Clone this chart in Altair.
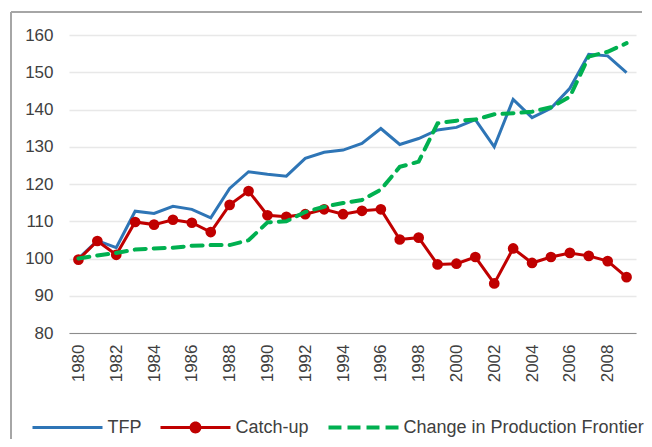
import altair as alt
import pandas as pd

years = list(range(1980, 2010))
tfp = [100.0, 104.8, 102.9, 112.7, 112.1, 114.0, 113.2, 110.9, 118.8, 123.3,
       122.6, 122.1, 126.9, 128.5, 129.1, 130.9, 134.9, 130.6, 132.2, 134.5,
       135.2, 137.3, 130.0, 142.7, 137.8, 140.3, 145.7, 154.8, 154.4, 149.9]
catch_up = [99.7, 104.7, 101.0, 109.8, 109.1, 110.4, 109.6, 107.1, 114.4, 118.1,
            111.6, 111.2, 111.9, 113.2, 111.9, 112.8, 113.2, 105.1, 105.6, 98.4,
            98.6, 100.4, 93.3, 102.7, 98.8, 100.4, 101.5, 100.7, 99.3, 95.0]
frontier = [100.0, 100.8, 101.5, 102.4, 102.7, 102.9, 103.4, 103.6, 103.6, 104.9,
            109.7, 110.0, 112.5, 113.9, 114.9, 115.7, 118.5, 124.6, 126.0, 136.3,
            137.0, 137.3, 138.7, 139.0, 139.4, 140.6, 143.4, 154.2, 155.5, 157.8]

series_names = ["TFP", "Catch-up", "Change in Production Frontier"]
series_colors = ["#2E75B6", "#C00000", "#00B050"]
x_ticks = list(range(1980, 2010, 2))
y_ticks = list(range(80, 161, 10))

rows = []
for name, vals in zip(series_names, [tfp, catch_up, frontier]):
    for yr, v in zip(years, vals):
        rows.append({"year": yr, "value": v, "series": name})
df = pd.DataFrame(rows)

FONT = "Liberation Sans"
W, H = 567, 298

x_enc = alt.X("year:Q",
              scale=alt.Scale(domain=[1979.5, 2009.5], nice=False, zero=False),
              axis=alt.Axis(values=x_ticks, format="d", labelAngle=-90, title=None,
                            grid=False, ticks=False, tickSize=0, labelPadding=11,
                            labelFlush=False, labelOverlap=False,
                            domainColor="#8c8c8c", domainWidth=1.2))
y_enc = alt.Y("value:Q",
              scale=alt.Scale(domain=[80, 160], nice=False, zero=False),
              axis=alt.Axis(values=y_ticks, title=None, domain=False, ticks=False,
                            tickSize=0, labelPadding=16, gridColor="#e8e8e8",
                            gridWidth=1.3, labelFlush=False))

base = alt.Chart(df)

tfp_line = base.transform_filter(alt.datum.series == "TFP").mark_line(
    color=series_colors[0], strokeWidth=3).encode(x=x_enc, y=y_enc)
catch_line = base.transform_filter(alt.datum.series == "Catch-up").mark_line(
    color=series_colors[1], strokeWidth=3).encode(x=x_enc, y=y_enc)
catch_pts = base.transform_filter(alt.datum.series == "Catch-up").mark_point(
    filled=True, color=series_colors[1], size=115, opacity=1, strokeWidth=0).encode(x=x_enc, y=y_enc)
front_line = base.transform_filter(
    alt.datum.series == "Change in Production Frontier").mark_line(
    color=series_colors[2], strokeWidth=4, strokeDash=[11, 8], strokeCap="round").encode(x=x_enc, y=y_enc)

p_tfp = "M-1,-0.045L1,-0.045L1,0.045L-1,0.045Z"
p_catch = ("M-1,-0.045L1,-0.045L1,0.045L-1,0.045Z"
           "M-0.17,0A0.17,0.17 0 1,1 0.17,0A0.17,0.17 0 1,1 -0.17,0Z")
p_front = ("M-1,-0.06L-0.63,-0.06L-0.63,0.06L-1,0.06Z"
           "M-0.457,-0.06L-0.086,-0.06L-0.086,0.06L-0.457,0.06Z"
           "M0.086,-0.06L0.457,-0.06L0.457,0.06L0.086,0.06Z"
           "M0.63,-0.06L1,-0.06L1,0.06L0.63,0.06Z")

leg = alt.Legend(orient="none", legendX=-36.5, legendY=357.5, direction="horizontal",
                 title=None, symbolSize=4900, symbolStrokeWidth=0, symbolOpacity=1,
                 labelFontSize=18, labelFont=FONT, labelColor="#404040",
                 labelOffset=5, columnPadding=19, padding=0, labelLimit=400)

legend_layer = base.transform_filter("false").mark_point(
    filled=True, opacity=1, strokeWidth=0).encode(
    x=x_enc, y=y_enc,
    color=alt.Color("series:N", scale=alt.Scale(domain=series_names, range=series_colors),
                    legend=leg),
    shape=alt.Shape("series:N", scale=alt.Scale(domain=series_names,
                                                range=[p_tfp, p_catch, p_front]),
                    legend=leg))

frame_df = pd.DataFrame({"k": [0]})
frame_top = alt.Chart(frame_df).mark_rule(color="#a6a6a6", strokeWidth=2).encode(
    x=alt.value(-58), x2=alt.value(W + 6), y=alt.value(-23))
frame_left = alt.Chart(frame_df).mark_rule(color="#a6a6a6", strokeWidth=2).encode(
    x=alt.value(-58), y=alt.value(-23), y2=alt.value(H + 110))

chart = alt.layer(
    tfp_line, catch_line, catch_pts, front_line, legend_layer, frame_top, frame_left
).properties(
    width=W, height=H,
    autosize=alt.AutoSizeParams(type="none"),
    padding={"left": 61, "top": 27, "right": 8, "bottom": 106},
    background="white",
).configure_view(stroke=None).configure_axis(
    labelFont=FONT, labelColor="#404040", labelFontSize=17
)

chart.save("out.html", embed_options={"renderer": "svg", "actions": False})
